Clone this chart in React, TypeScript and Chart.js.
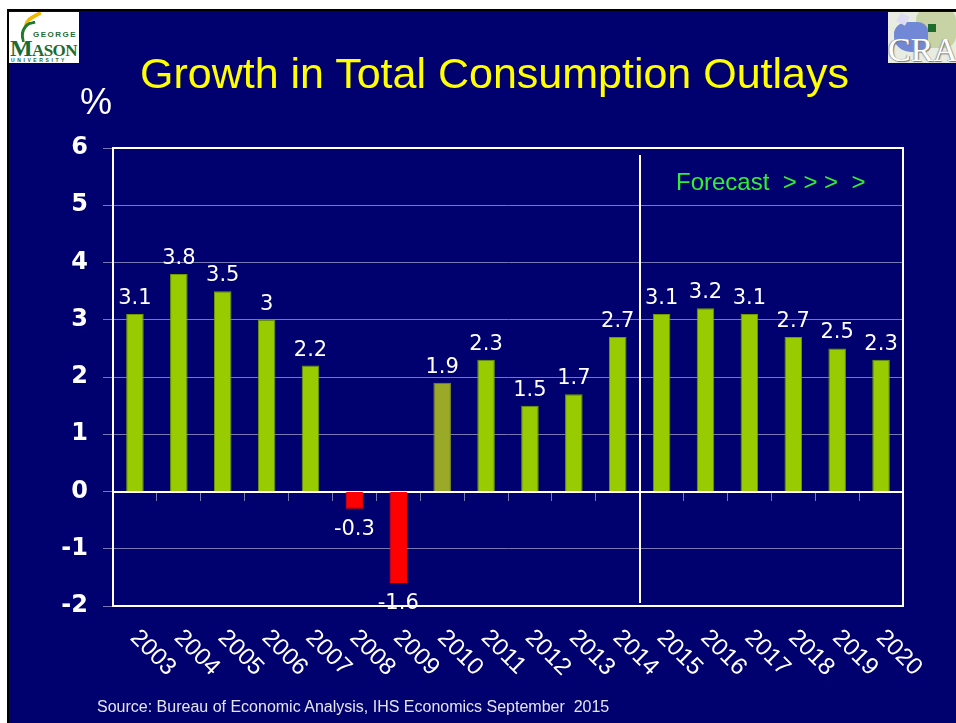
import React, { useEffect, useRef } from 'react';
import { Chart, registerables } from 'chart.js';

Chart.register(...registerables);

// ---------- data ----------
const years = ['2003', '2004', '2005', '2006', '2007', '2008', '2009', '2010', '2011', '2012', '2013', '2014', '2015', '2016', '2017', '2018', '2019', '2020'];
const growth = [3.1, 3.8, 3.5, 3, 2.2, -0.3, -1.6, 1.9, 2.3, 1.5, 1.7, 2.7, 3.1, 3.2, 3.1, 2.7, 2.5, 2.3];
const yMin = -2;
const yMax = 6;
const yStep = 1;
const firstForecastYear = '2015';
const oliveYear = '2010';

const titleText = 'Growth in Total Consumption Outlays';
const unitText = '%';
const forecastText = 'Forecast  > > >  >';
const sourceText = 'Source: Bureau of Economic Analysis, IHS Economics September  2015';

const FONT = '"Liberation Sans", Arial, Helvetica, sans-serif';
const WIDE = '"DejaVu Sans", Verdana, sans-serif';
const NAVY = '#00006E';
const GRID = '#7878B4';

const decorPlugin = {
  id: 'decor',
  beforeDatasetsDraw(chart: any) {
    const { ctx, chartArea: a, scales } = chart;
    const xs = scales.x;
    ctx.save();
    ctx.strokeStyle = '#FFFFFF';
    ctx.lineWidth = 2;
    ctx.strokeRect(a.left, a.top, a.right - a.left, a.bottom - a.top);
    const fi = years.indexOf(firstForecastYear);
    const bx = Math.round((xs.getPixelForTick(fi - 1) + xs.getPixelForTick(fi)) / 2);
    ctx.beginPath();
    ctx.moveTo(bx, a.top + 7);
    ctx.lineTo(bx, a.bottom - 3);
    ctx.stroke();
    ctx.restore();
  },
  afterDatasetsDraw(chart: any) {
    const { ctx, scales } = chart;
    const meta = chart.getDatasetMeta(0);
    ctx.save();
    ctx.fillStyle = '#FFFFFF';
    ctx.font = `21px ${WIDE}`;
    ctx.textAlign = 'center';
    meta.data.forEach((el: any, i: number) => {
      const v = growth[i];
      const txt = String(v);
      if (v >= 0) {
        ctx.textBaseline = 'alphabetic';
        ctx.fillText(txt, el.x, el.y - 10);
      } else {
        ctx.textBaseline = 'top';
        ctx.fillText(txt, el.x, el.y + 10);
      }
    });
    // rotated category labels along the bottom
    const xs = scales.x;
    ctx.font = `24px ${FONT}`;
    ctx.textAlign = 'left';
    ctx.textBaseline = 'middle';
    years.forEach((y, i) => {
      const px = xs.getPixelForTick(i);
      ctx.save();
      ctx.translate(px - 1, 634);
      ctx.rotate(Math.PI / 4);
      ctx.fillText(y, 0, 0);
      ctx.restore();
    });
    ctx.restore();
  },
};

function ChartCanvas() {
  const ref = useRef<HTMLCanvasElement | null>(null);
  useEffect(() => {
    if (!ref.current) return;
    const colors = growth.map((v, i) => (v < 0 ? '#FF0000' : years[i] === oliveYear ? '#9AAA28' : '#99CC00'));
    const borders = growth.map((v, i) => (v < 0 ? '#FF0000' : years[i] === oliveYear ? '#80901E' : '#739A00'));
    const chart = new Chart(ref.current, {
      type: 'bar',
      data: {
        labels: years,
        datasets: [
          {
            data: growth,
            backgroundColor: colors,
            borderColor: borders,
            borderWidth: 1,
            barPercentage: 0.4,
            categoryPercentage: 1,
          },
        ],
      },
      plugins: [decorPlugin],
      options: {
        responsive: false,
        animation: false,
        devicePixelRatio: 1,
        layout: { padding: { left: 40, top: 148, right: 53, bottom: 117 } },
        plugins: { legend: { display: false }, tooltip: { enabled: false }, title: { display: false } },
        scales: {
          x: {
            type: 'category',
            position: { y: 0 } as any,
            offset: true,
            grid: { display: true, drawOnChartArea: false, drawTicks: true, tickLength: 8, color: GRID, offset: true },
            border: { display: true, color: '#FFFFFF', width: 2 },
            ticks: { display: false },
          },
          y: {
            min: yMin,
            max: yMax,
            ticks: {
              stepSize: yStep,
              color: '#FFFFFF',
              padding: 15,
              font: { family: WIDE, size: 24, weight: 'bold' },
            },
            grid: { color: GRID, tickLength: 10, lineWidth: 1 },
            border: { display: true, color: '#FFFFFF', width: 2 },
            afterFit: (s: any) => {
              s.width = 73;
            },
          },
        },
      } as any,
    });
    return () => chart.destroy();
  }, []);
  return <canvas ref={ref} width={956} height={723} style={{ position: 'absolute', left: 0, top: 0, width: 956, height: 723, display: 'block', zIndex: 2 }} />;
}

function MasonLogo() {
  const green = '#1A6B35';
  return (
    <div style={{ position: 'absolute', left: 9, top: 12, width: 70, height: 51, background: '#FFFFFF', overflow: 'hidden', zIndex: 3 }}>
      <div style={{ position: 'absolute', left: 14, top: 3, width: 22, height: 12, borderTop: '4px solid #F2B700', borderRadius: '60% 0 0 0', transform: 'rotate(-28deg)' }} />
      <div style={{ position: 'absolute', left: 11, top: 10, width: 14, height: 16, borderLeft: '3px solid #1F7A2E', borderTop: '3px solid #1F7A2E', borderRadius: '80% 0 0 0', transform: 'rotate(-10deg)' }} />
      <div style={{ position: 'absolute', left: 24, top: 18, fontFamily: FONT, fontWeight: 'bold', fontSize: 8, letterSpacing: 1.5, color: green, lineHeight: '9px' }}>GEORGE</div>
      <div style={{ position: 'absolute', left: 1, top: 25, fontFamily: '"Liberation Serif", "Times New Roman", serif', fontWeight: 'bold', color: green, lineHeight: '22px', whiteSpace: 'nowrap', letterSpacing: -0.6 }}>
        <span style={{ fontSize: 24 }}>M</span>
        <span style={{ fontSize: 17 }}>ASON</span>
      </div>
      <div style={{ position: 'absolute', left: 2, top: 45, fontFamily: FONT, fontWeight: 'bold', fontSize: 5, letterSpacing: 2.6, color: green, lineHeight: '6px', whiteSpace: 'nowrap' }}>UNIVERSITY</div>
    </div>
  );
}

function CraLogo() {
  return (
    <div style={{ position: 'absolute', left: 888, top: 12, width: 68, height: 51, background: '#E9ECE0', overflow: 'hidden', zIndex: 3 }}>
      <div style={{ position: 'absolute', left: 28, top: -4, width: 40, height: 40, background: '#C7D3A4', borderRadius: '30%' }} />
      <div style={{ position: 'absolute', left: 6, top: 10, width: 34, height: 30, background: '#7088D6', borderRadius: '40% 30% 20% 50%' }} />
      <div style={{ position: 'absolute', left: 10, top: 2, width: 10, height: 10, background: '#DCDDF2', transform: 'rotate(30deg)' }} />
      <div style={{ position: 'absolute', left: 40, top: 12, width: 8, height: 8, background: '#1E6B2E' }} />
      <div style={{ position: 'absolute', left: 0, top: 21, fontFamily: '"Liberation Serif", "Times New Roman", serif', fontSize: 34, color: '#FFFFFF', lineHeight: '34px', whiteSpace: 'nowrap', textShadow: '1px 1px 1px #777, -1px 0 1px #999' }}>CRA</div>
    </div>
  );
}

export default function App() {
  return (
    <div style={{ position: 'fixed', left: 0, top: 0, width: 956, height: 723, overflow: 'hidden', background: '#FFFFFF' }}>
      <div style={{ position: 'absolute', left: 7, top: 9, right: 0, bottom: 0, background: NAVY, borderTop: '2px solid #000', borderLeft: '2px solid #000' }} />
      <MasonLogo />
      <CraLogo />
      <div style={{ position: 'absolute', left: 0, width: 989, top: 52, textAlign: 'center', fontFamily: FONT, fontSize: 43, lineHeight: '43px', color: '#FFFF00', whiteSpace: 'nowrap', zIndex: 3 }}>{titleText}</div>
      <div style={{ position: 'absolute', left: 80, top: 84, fontFamily: FONT, fontSize: 36, lineHeight: '36px', color: '#FFFFFF', zIndex: 3 }}>{unitText}</div>
      <div style={{ position: 'absolute', left: 676, top: 170, fontFamily: FONT, fontSize: 24, lineHeight: '24px', color: '#33EE33', whiteSpace: 'pre', zIndex: 3 }}>{forecastText}</div>
      <div style={{ position: 'absolute', left: 97, top: 699, fontFamily: FONT, fontSize: 16, lineHeight: '16px', color: '#E4E4EE', whiteSpace: 'pre', zIndex: 3 }}>{sourceText}</div>
      <ChartCanvas />
    </div>
  );
}
